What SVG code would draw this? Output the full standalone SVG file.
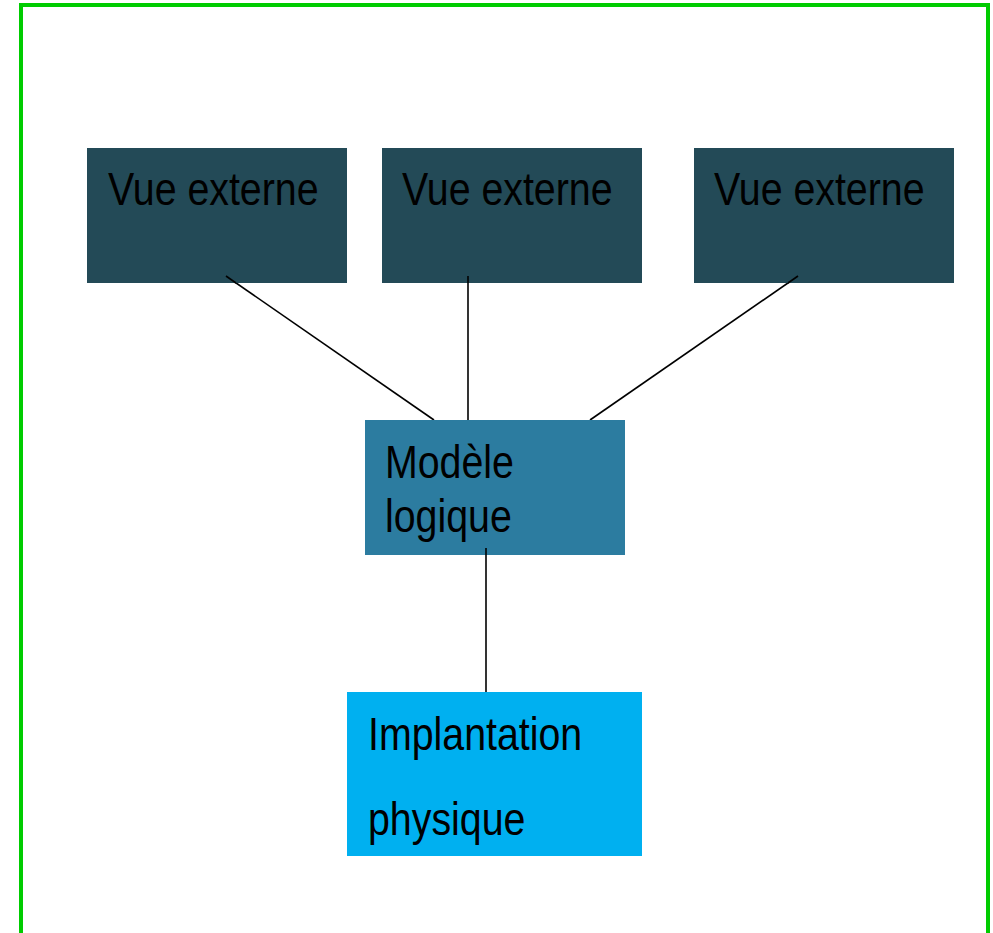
<svg xmlns="http://www.w3.org/2000/svg" width="993" height="933" viewBox="0 0 993 933">
<style>
.t{font-family:"Liberation Sans",Arial,sans-serif;font-size:46px;fill:#000}
.c{stroke:#000;stroke-width:1.6;fill:none}
</style>
<rect x="0" y="0" width="993" height="933" fill="#fff"/>
<rect x="21" y="5" width="967" height="940" fill="none" stroke="#00CC00" stroke-width="4"/>
<g id="connectors">
<line class="c" x1="226" y1="276" x2="434" y2="420"/>
<line class="c" x1="468" y1="276" x2="468" y2="420"/>
<line class="c" x1="798" y1="276" x2="590" y2="420"/>
<line class="c" x1="486" y1="548" x2="486" y2="692"/>
</g>
<g id="vue1">
<rect x="87" y="148" width="260" height="135" fill="#234A57"/>
<line class="c" x1="226" y1="276" x2="236" y2="283"/>
<text class="t" transform="translate(108,205) scale(0.855,1)">Vue externe</text>
</g>
<g id="vue2">
<rect x="382" y="148" width="260" height="135" fill="#234A57"/>
<line class="c" x1="468" y1="276" x2="468" y2="283"/>
<text class="t" transform="translate(402,205) scale(0.855,1)">Vue externe</text>
</g>
<g id="vue3">
<rect x="694" y="148" width="260" height="135" fill="#234A57"/>
<line class="c" x1="798" y1="276" x2="788" y2="283"/>
<text class="t" transform="translate(714,205) scale(0.855,1)">Vue externe</text>
</g>
<g id="modele">
<rect x="365" y="420" width="260" height="135" fill="#2C7CA0"/>
<line class="c" x1="486" y1="548" x2="486" y2="555"/>
<text class="t" transform="translate(385,478) scale(0.855,1)">Modèle</text>
<text class="t" transform="translate(385,532) scale(0.855,1)">logique</text>
</g>
<g id="implantation">
<rect x="347" y="692" width="295" height="164" fill="#00B0F0"/>
<text class="t" transform="translate(368,750) scale(0.855,1)">Implantation</text>
<text class="t" transform="translate(368,835) scale(0.855,1)">physique</text>
</g>
</svg>
